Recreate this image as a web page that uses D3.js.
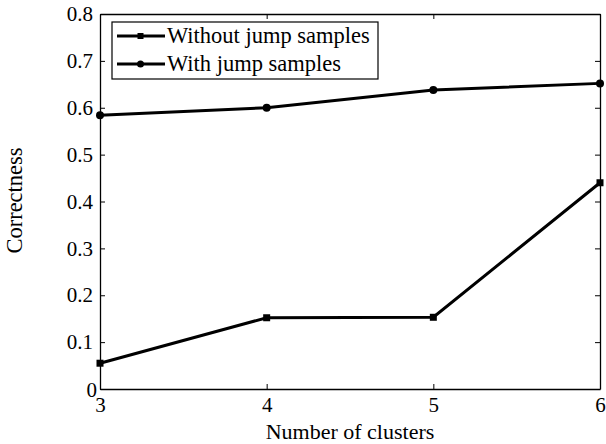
<!DOCTYPE html>
<html>
<head>
<meta charset="utf-8">
<script src="https://cdn.jsdelivr.net/npm/d3@7"></script>
<style>
  body { margin: 0; background: #fff; }
  svg text { font-family: "Liberation Serif", Tinos, "Times New Roman", Times, "DejaVu Serif", serif !important; fill: #000; }
</style>
</head>
<body>
<div id="plot"></div>
<script>
// Data
const clusters = [3, 4, 5, 6];
const withoutJump = [0.055, 0.152, 0.153, 0.44];
const withJump = [0.584, 0.600, 0.638, 0.652];
const yTicks = [0, 0.1, 0.2, 0.3, 0.4, 0.5, 0.6, 0.7, 0.8];
const seriesNames = ["Without jump samples", "With jump samples"];

const W = 606, H = 444;
const margin = { top: 14, right: 6, bottom: 55, left: 100 };
const width = W - margin.left - margin.right;
const height = H - margin.top - margin.bottom;

const svg = d3.select("#plot")
  .append("svg")
  .attr("width", W)
  .attr("height", H)
  .append("g")
  .attr("transform", `translate(${margin.left},${margin.top})`);

const x = d3.scaleLinear().domain([3, 6]).range([0, width]);
const y = d3.scaleLinear().domain([0, 0.8]).range([height, 0]);

// Axes: ticks inward, mirrored on top/right
const fmt = d => d === 0 ? "0" : d3.format(".1f")(d);

const xAxis = svg.append("g")
  .attr("transform", `translate(0,${height})`)
  .call(d3.axisBottom(x).tickValues(clusters).tickSizeInner(-5).tickSizeOuter(0).tickPadding(8).tickFormat(d3.format("d")));

const yAxis = svg.append("g")
  .call(d3.axisLeft(y).tickValues(yTicks).tickSizeInner(-5).tickSizeOuter(0).tickPadding(7).tickFormat(fmt));

svg.append("g")
  .call(d3.axisTop(x).tickValues(clusters).tickSizeInner(-5).tickSizeOuter(0).tickFormat(""));

svg.append("g")
  .attr("transform", `translate(${width},0)`)
  .call(d3.axisRight(y).tickValues(yTicks).tickSizeInner(-5).tickSizeOuter(0).tickFormat(""));

svg.selectAll("g").attr("font-family", null);
svg.selectAll(".domain").attr("stroke", "#000").attr("stroke-width", 1.3);
svg.selectAll(".tick line").attr("stroke", "#000");
svg.selectAll(".tick text")
  .style("font-size", "21px")
  .attr("fill", "#000");

// Y-axis: "0" label sits closer to the axis like the original
yAxis.selectAll(".tick text").filter(d => d === 0).attr("x", -3).attr("dy", "0.36em");

// Lines
const line = d3.line()
  .x(d => x(d[0]))
  .y(d => y(d[1]));

const dataWithout = clusters.map((c, i) => [c, withoutJump[i]]);
const dataWith = clusters.map((c, i) => [c, withJump[i]]);

[dataWithout, dataWith].forEach(data => {
  svg.append("path")
    .datum(data)
    .attr("fill", "none")
    .attr("stroke", "#000")
    .attr("stroke-width", 3)
    .attr("d", line);
});

// Markers
svg.selectAll(".sq")
  .data(dataWithout)
  .enter()
  .append("rect")
  .attr("class", "sq")
  .attr("x", d => x(d[0]) - 3.5)
  .attr("y", d => y(d[1]) - 3.5)
  .attr("width", 7)
  .attr("height", 7)
  .attr("fill", "#000");

svg.selectAll(".dot")
  .data(dataWith)
  .enter()
  .append("circle")
  .attr("class", "dot")
  .attr("cx", d => x(d[0]))
  .attr("cy", d => y(d[1]))
  .attr("r", 4)
  .attr("fill", "#000");

// Legend
const legend = svg.append("g")
  .attr("transform", "translate(12,8)");

legend.append("rect")
  .attr("width", 266)
  .attr("height", 57)
  .attr("fill", "#fff")
  .attr("stroke", "#000")
  .attr("stroke-width", 1.2);

seriesNames.forEach((name, i) => {
  const g = legend.append("g").attr("transform", `translate(0,${14 + i * 28})`);
  g.append("line")
    .attr("x1", 5).attr("x2", 53)
    .attr("stroke", "#000").attr("stroke-width", 3);
  if (i === 0) {
    g.append("rect").attr("x", 25.5).attr("y", -3).attr("width", 6).attr("height", 6).attr("fill", "#000");
  } else {
    g.append("circle").attr("cx", 28.5).attr("r", 3.5).attr("fill", "#000");
  }
  g.append("text")
    .attr("x", 55)
    .attr("y", 7)
    .style("font-size", "22.5px")
    .text(name);
});

// Axis labels
svg.append("text")
  .attr("text-anchor", "middle")
  .attr("x", width / 2)
  .attr("y", height + 50)
  .style("font-size", "22px")
  .text("Number of clusters");

svg.append("text")
  .attr("text-anchor", "middle")
  .attr("transform", `translate(${-78},${height / 2 - 1}) rotate(-90)`)
  .style("font-size", "22.5px")
  .text("Correctness");
</script>
</body>
</html>
